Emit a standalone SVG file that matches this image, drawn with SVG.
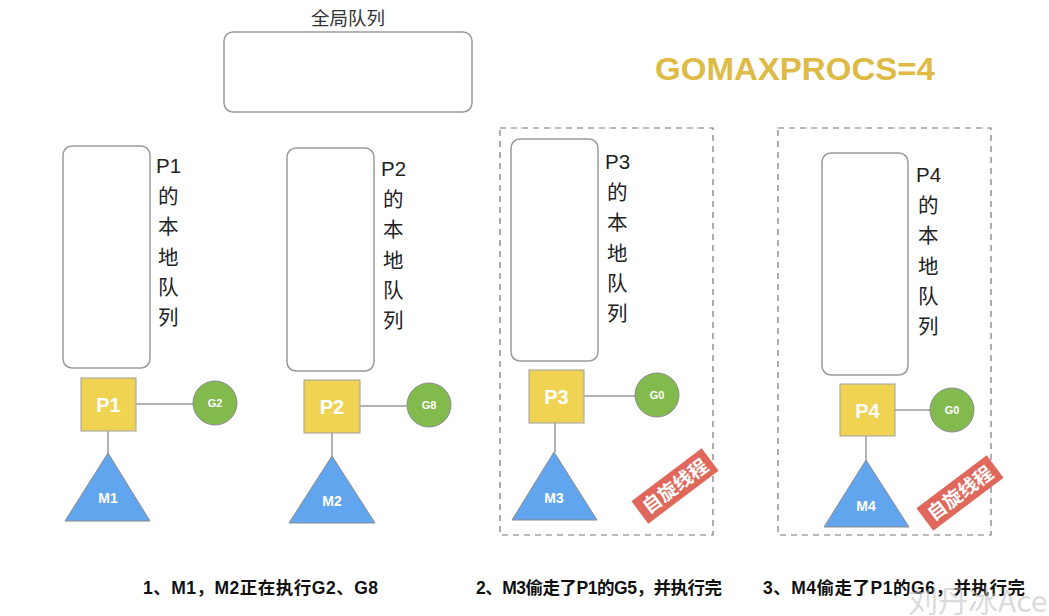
<svg xmlns="http://www.w3.org/2000/svg" width="1049" height="616" viewBox="0 0 1049 616">
<style>
.q{fill:#fff;stroke:#9a9a9a;stroke-width:1.5}
.p{fill:#F0D352;stroke:#a0a0a0;stroke-width:1}
.g{fill:#82BA4E;stroke:#8a8a8a;stroke-width:1}
.m{fill:#62A5EF;stroke:#8a8a8a;stroke-width:1}
.ln{stroke:#666;stroke-width:1;fill:none}
.dash{fill:none;stroke:#777;stroke-width:1.2;stroke-dasharray:6 5}
.lbl{font-family:"Liberation Sans","Noto Sans CJK SC",sans-serif;font-size:20.5px;fill:#222}
.cap{font-family:"Liberation Sans","Noto Sans CJK SC",sans-serif;font-size:18.5px;fill:#333}
.pt{font-family:"Liberation Sans",sans-serif;font-weight:bold;font-size:20px;fill:#fff;text-anchor:middle}
.gt{font-family:"Liberation Sans",sans-serif;font-weight:bold;font-size:11px;fill:#fff;text-anchor:middle}
.mt{font-family:"Liberation Sans",sans-serif;font-weight:bold;font-size:14px;fill:#fff;text-anchor:middle}
.spin{fill:#E0675B}
.st{font-family:"Noto Sans CJK SC",sans-serif;font-weight:bold;font-size:19px;fill:#fff;text-anchor:middle}
.bt{font-family:"Liberation Sans","Noto Sans CJK SC",sans-serif;font-weight:bold;font-size:17.5px;fill:#111}
</style>

<g id="global-queue">
<text class="cap" x="348" y="25" text-anchor="middle">全局队列</text>
<rect class="q" x="224" y="32" width="248" height="80" rx="9"/>
</g>

<g id="gomaxprocs">
<text x="655" y="80" font-family="Liberation Sans,sans-serif" font-weight="bold" font-size="32" fill="#DDBB44" textLength="280" lengthAdjust="spacingAndGlyphs">GOMAXPROCS=4</text>
</g>

<g id="dashed-3"><rect class="dash" x="500" y="128" width="213" height="407"/></g>
<g id="dashed-4"><rect class="dash" x="778" y="128" width="213" height="407"/></g>

<g id="connectors">
<line class="ln" x1="136" y1="404" x2="193" y2="404"/>
<line class="ln" x1="108" y1="431" x2="108" y2="453"/>
<line class="ln" x1="360" y1="406" x2="407" y2="406"/>
<line class="ln" x1="332" y1="433" x2="332" y2="456"/>
<line class="ln" x1="584" y1="396" x2="635" y2="396"/>
<line class="ln" x1="555" y1="423" x2="555" y2="452"/>
<line class="ln" x1="895" y1="410" x2="930" y2="410"/>
<line class="ln" x1="866" y1="436" x2="866" y2="460"/>
</g>

<g id="p1-local">
<rect class="q" x="63" y="146" width="87" height="222" rx="9"/>
<text class="lbl" x="156" y="173">P1</text>
<text class="lbl" x="158" y="204">的</text>
<text class="lbl" x="158" y="234">本</text>
<text class="lbl" x="158" y="265">地</text>
<text class="lbl" x="158" y="295">队</text>
<text class="lbl" x="158" y="325">列</text>
</g>
<g id="p1"><rect class="p" x="81" y="378" width="55" height="53"/><text class="pt" x="108.5" y="412">P1</text></g>
<g id="g2"><circle class="g" cx="215" cy="403" r="22"/><text class="gt" x="215" y="407">G2</text></g>
<g id="m1"><polygon class="m" points="108,453 65,521 150,521"/><text class="mt" x="108" y="503">M1</text></g>

<g id="p2-local">
<rect class="q" x="287" y="148" width="87" height="223" rx="9"/>
<text class="lbl" x="381" y="176">P2</text>
<text class="lbl" x="383" y="207">的</text>
<text class="lbl" x="383" y="237">本</text>
<text class="lbl" x="383" y="268">地</text>
<text class="lbl" x="383" y="298">队</text>
<text class="lbl" x="383" y="328">列</text>
</g>
<g id="p2"><rect class="p" x="304" y="380" width="56" height="53"/><text class="pt" x="332" y="414">P2</text></g>
<g id="g8"><circle class="g" cx="429" cy="405" r="22"/><text class="gt" x="429" y="409">G8</text></g>
<g id="m2"><polygon class="m" points="332,456 289,523 375,523"/><text class="mt" x="332" y="506">M2</text></g>

<g id="p3-local">
<rect class="q" x="511" y="139" width="87" height="222" rx="9"/>
<text class="lbl" x="605" y="169">P3</text>
<text class="lbl" x="607" y="200">的</text>
<text class="lbl" x="607" y="230">本</text>
<text class="lbl" x="607" y="261">地</text>
<text class="lbl" x="607" y="291">队</text>
<text class="lbl" x="607" y="321">列</text>
</g>
<g id="p3"><rect class="p" x="529" y="370" width="55" height="53"/><text class="pt" x="556.5" y="404">P3</text></g>
<g id="g0a"><circle class="g" cx="657" cy="395" r="22"/><text class="gt" x="657" y="399">G0</text></g>
<g id="m3"><polygon class="m" points="554,452 512,520 597,520"/><text class="mt" x="554" y="503">M3</text></g>
<g id="spin3" transform="translate(675,486) rotate(-37)">
<rect class="spin" x="-44" y="-14" width="88" height="28"/>
<text class="st" x="0" y="7">自旋线程</text>
</g>

<g id="p4-local">
<rect class="q" x="822" y="153" width="86" height="222" rx="9"/>
<text class="lbl" x="916" y="182">P4</text>
<text class="lbl" x="918" y="213">的</text>
<text class="lbl" x="918" y="243">本</text>
<text class="lbl" x="918" y="274">地</text>
<text class="lbl" x="918" y="304">队</text>
<text class="lbl" x="918" y="334">列</text>
</g>
<g id="p4"><rect class="p" x="840" y="384" width="55" height="52"/><text class="pt" x="867.5" y="418">P4</text></g>
<g id="g0b"><circle class="g" cx="952" cy="410" r="22"/><text class="gt" x="952" y="414">G0</text></g>
<g id="m4"><polygon class="m" points="866,460 824,527 909,527"/><text class="mt" x="866" y="511">M4</text></g>
<g id="spin4" transform="translate(960,493) rotate(-37)">
<rect class="spin" x="-44" y="-14" width="88" height="28"/>
<text class="st" x="0" y="7">自旋线程</text>
</g>

<g id="captions">
<text class="bt" x="143" y="594" textLength="235">1、M1，M2正在执行G2、G8</text>
<text class="bt" x="476" y="594" textLength="246">2、M3偷走了P1的G5，并执行完</text>
<text class="bt" x="763" y="594" textLength="262">3、M4偷走了P1的G6，并执行完</text>
</g>

<g id="watermark">
<text x="908" y="612" font-family="Noto Sans CJK SC,sans-serif" font-size="30" fill="#bbb" fill-opacity="0.55">刘丹冰Ace</text>
</g>
</svg>
